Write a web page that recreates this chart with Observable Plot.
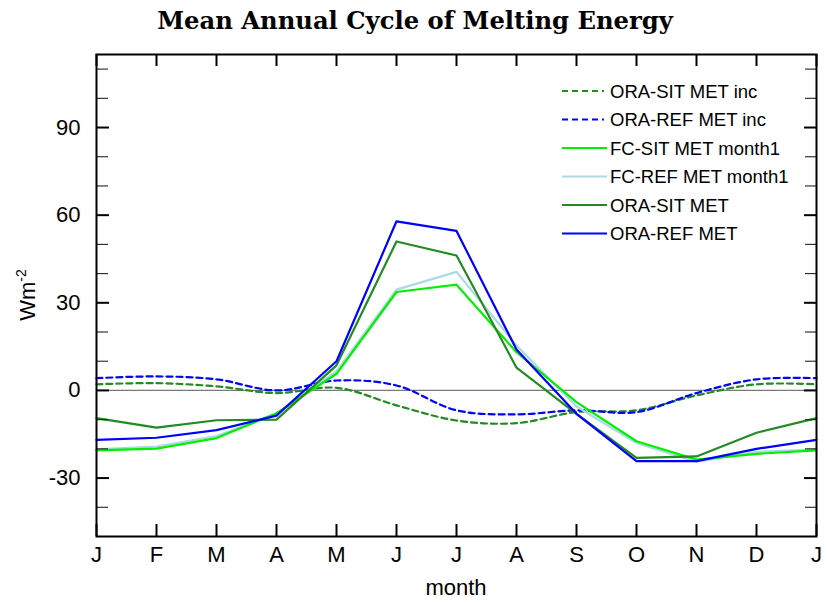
<!DOCTYPE html>
<html><head><meta charset="utf-8">
<script src="https://cdn.jsdelivr.net/npm/d3@7"></script>
<script src="https://cdn.jsdelivr.net/npm/@observablehq/plot@0.6"></script>
<style>
body{margin:0;background:#fff;}
#wrap{position:relative;width:827px;height:604px;overflow:hidden;}
#wrap svg{display:block;}
#overlay{position:absolute;left:0;top:0;pointer-events:none;}
</style></head><body><div id="wrap"></div>
<script>
// ---- data ----
const monthLabels = ["J","F","M","A","M","J","J","A","S","O","N","D","J"];
const oraSitInc = [2.1, 2.5, 1.4, -0.9, 0.9, -5.1, -10.3, -11.2, -7.4, -6.8, -1.7, 2.1, 2.1];
const oraRefInc = [4.2, 4.8, 3.8, 0.0, 3.4, 1.7, -6.8, -8.2, -6.8, -7.4, -0.9, 3.8, 4.2];
const fcSit     = [-20.5, -19.9, -16.3, -7.8, 5.7, 33.7, 36.2, 13.1, -4.0, -17.4, -23.7, -21.7, -20.5];
const fcRef     = [-20.2, -19.2, -15.6, -8.0, 6.6, 34.5, 40.6, 15.4, -5.5, -18.0, -24.5, -21.0, -20.2];
const oraSit    = [-9.5, -12.7, -10.2, -10.0, 8.6, 51.0, 46.2, 7.8, -8.0, -23.1, -22.6, -14.5, -9.5];
const oraRef    = [-16.9, -16.2, -13.6, -8.6, 10.0, 57.9, 54.6, 14.0, -8.0, -24.2, -24.2, -20.0, -16.9];
const seriesNames = ["ORA-SIT MET inc","ORA-REF MET inc","FC-SIT MET month1","FC-REF MET month1","ORA-SIT MET","ORA-REF MET"];
const majorTicks = [-30, 0, 30, 60, 90];
const minorTicks = [-40, -20, -10, 10, 20, 40, 50, 70, 80, 100, 110];
const titleText = "Mean Annual Cycle of Melting Energy";
const xLabel = "month";

// ---- styles ----
const styles = {
  "ORA-SIT MET inc":   {values: oraSitInc, color: "#228B22", dash: "6,4", curve: "catmull-rom"},
  "ORA-REF MET inc":   {values: oraRefInc, color: "#0000FF", dash: "6,4", curve: "catmull-rom"},
  "FC-SIT MET month1": {values: fcSit,  color: "#00F000", dash: null, curve: "linear"},
  "FC-REF MET month1": {values: fcRef,  color: "#ADD8E6", dash: null, curve: "linear"},
  "ORA-SIT MET":       {values: oraSit, color: "#228B22", dash: null, curve: "linear"},
  "ORA-REF MET":       {values: oraRef, color: "#0000FF", dash: null, curve: "linear"}
};
const drawOrder = ["ORA-SIT MET inc","ORA-REF MET inc","FC-REF MET month1","FC-SIT MET month1","ORA-SIT MET","ORA-REF MET"];

const W = 827, TITLE_H = 40, H = 564;
const mL = 96, mR = 11, mT = 14, mB = 68;
const innerW = W - mL - mR, innerH = H - mT - mB;
const monthIdx = monthLabels.map((_, i) => i);

const lineMarks = drawOrder.map(name => {
  const s = styles[name];
  return Plot.line(monthIdx, {
    x: i => i, y: i => s.values[i],
    stroke: s.color, strokeWidth: 2.2,
    strokeDasharray: s.dash || undefined,
    curve: s.curve
  });
});

const chart = Plot.plot({
  width: W, height: H,
  marginLeft: mL, marginRight: mR, marginTop: mT, marginBottom: mB,
  style: {fontFamily: "'Liberation Sans', Arial, sans-serif", background: "white", color: "black"},
  x: {domain: [0, 12]},
  y: {domain: [-50, 115]},
  marks: [
    Plot.ruleY([0], {stroke: "#7a7a7a", strokeWidth: 1.3}),
    ...lineMarks,
    // inward ticks on all four sides
    Plot.tickX(monthIdx, {x: d => d, insetTop: innerH - 12, stroke: "black", strokeWidth: 2}),
    Plot.tickX(monthIdx, {x: d => d, insetBottom: innerH - 12, stroke: "black", strokeWidth: 2}),
    Plot.tickY(majorTicks, {y: d => d, insetRight: innerW - 13, stroke: "black", strokeWidth: 2}),
    Plot.tickY(majorTicks, {y: d => d, insetLeft: innerW - 12, stroke: "black", strokeWidth: 2}),
    Plot.tickY(minorTicks, {y: d => d, insetRight: innerW - 12, stroke: "#222", strokeWidth: 1.1}),
    Plot.tickY(minorTicks, {y: d => d, insetLeft: innerW - 11, stroke: "#222", strokeWidth: 1.1}),
    Plot.axisX({ticks: monthIdx, tickFormat: i => monthLabels[i], tickSize: 0, tickPadding: 10, fontSize: 22, label: null}),
    Plot.axisY({ticks: majorTicks, tickFormat: d => String(d), tickSize: 0, tickPadding: 16, fontSize: 22, label: null}),
    Plot.frame({stroke: "black", strokeWidth: 2})
  ]
});

const wrap = document.getElementById("wrap");
const titleSvg = d3.create("svg").attr("width", W).attr("height", TITLE_H);
wrap.appendChild(titleSvg.node());
wrap.appendChild(chart);

// title: fit to reference width
const titleFont = "'DejaVu Serif', 'Liberation Serif', serif";
const ctx = document.createElement("canvas").getContext("2d");
ctx.font = `bold 20px ${titleFont}`;
const tw = ctx.measureText(titleText).width;
const titleSize = 20 * 516 / tw;
titleSvg.append("text")
  .attr("x", 415).attr("y", 29)
  .attr("text-anchor", "middle")
  .attr("font-family", titleFont)
  .attr("font-weight", "bold")
  .attr("font-size", titleSize)
  .text(titleText);

// overlay: legend + axis labels
const ov = d3.select(wrap).append("svg").attr("id", "overlay").attr("width", W).attr("height", 604);
const sans = "'Liberation Sans', Arial, sans-serif";
seriesNames.forEach((name, k) => {
  const s = styles[name];
  const ry = 91 + k * 28.5;
  ov.append("line")
    .attr("x1", 562).attr("x2", s.dash ? 604 : 607)
    .attr("y1", ry).attr("y2", ry)
    .attr("stroke", s.color).attr("stroke-width", 2)
    .attr("stroke-dasharray", s.dash || null);
  ov.append("text")
    .attr("x", 610).attr("y", ry + 6.5)
    .attr("font-family", sans).attr("font-size", 18.5)
    .text(name);
});

// x label
ov.append("text")
  .attr("x", 456).attr("y", 595)
  .attr("text-anchor", "middle")
  .attr("font-family", sans).attr("font-size", 22)
  .text(xLabel);

// y label with superscript
const yl = ov.append("text")
  .attr("transform", "translate(35,295) rotate(-90)")
  .attr("text-anchor", "middle")
  .attr("font-family", sans).attr("font-size", 22);
yl.append("tspan").text("Wm");
yl.append("tspan").attr("font-size", 14).attr("dy", -9).text("-2");
</script>
</body></html>
